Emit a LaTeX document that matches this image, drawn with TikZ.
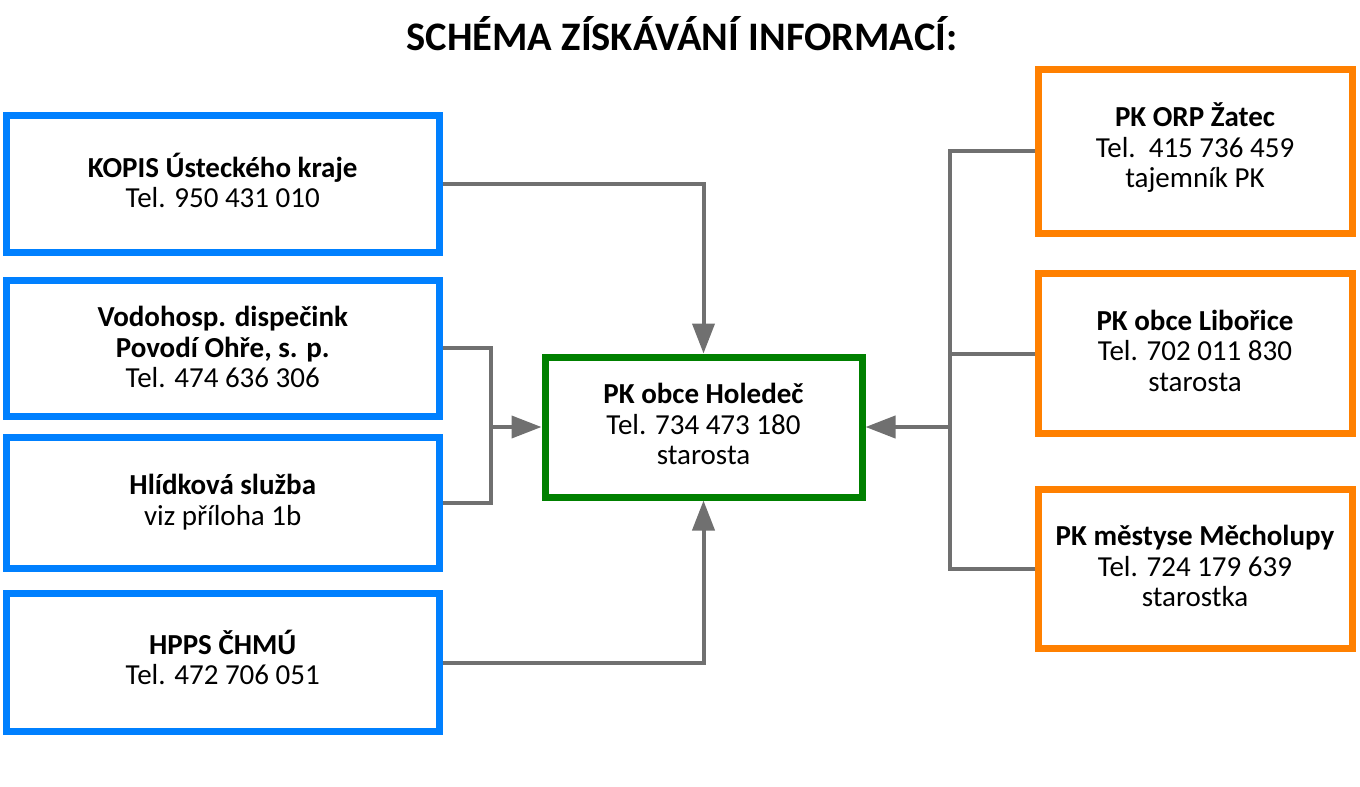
\documentclass[tikz,border=0pt]{standalone}
\usepackage{fontspec}
\setmainfont{Carlito}
\usetikzlibrary{arrows.meta}
\definecolor{cblue}{HTML}{0080FF}
\definecolor{cgreen}{HTML}{008000}
\definecolor{corange}{HTML}{FF8000}
\definecolor{cgray}{HTML}{707070}
\begin{document}
\begin{tikzpicture}[x=1pt,y=-1pt,
  box/.style={draw, line width=7pt, rectangle, inner sep=0pt},
  txt/.style={align=center, inner sep=0pt, font=\fontsize{29}{30.5}\selectfont},
  bluebox/.style={box, draw=cblue, minimum width=432.5pt, minimum height=137pt},
  orbox/.style={box, draw=corange, minimum width=314pt, minimum height=164pt},
  conn/.style={draw=cgray, line width=4pt},
  arr/.style={conn, -{Triangle[length=30pt,width=22pt]}}]
\useasboundingbox (0,0) rectangle (1360,787);
\node[font=\fontsize{40.5}{44}\selectfont\bfseries] (title) at (682,34) {SCHÉMA ZÍSKÁVÁNÍ INFORMACÍ:};
\node[bluebox] (b1) at (222.75,183.5) {};
\node[bluebox, minimum height=135.5pt] (b2) at (222.75,348.25) {};
\node[bluebox, minimum height=131pt] (b3) at (222.75,503) {};
\node[bluebox, minimum height=138pt] (b4) at (222.75,662.5) {};
\node[box, draw=cgreen, minimum width=317pt, minimum height=140pt] (g) at (703.5,427) {};
\node[orbox] (o1) at (1195,151) {};
\node[orbox, minimum height=160pt] (o2) at (1195,353.5) {};
\node[orbox, minimum height=159pt] (o3) at (1195,569) {};
\node[txt] (t1) at ([yshift=3pt]b1.center) {\textbf{KOPIS Ústeckého kraje}\\Tel. 950 431 010};
\node[txt] (t2) at ([yshift=1pt]b2.center) {\textbf{Vodohosp. dispečink}\\\textbf{Povodí Ohře, s. p.}\\Tel. 474 636 306};
\node[txt] (t3) at ([yshift=1pt]b3.center) {\textbf{Hlídková služba}\\viz příloha 1b};
\node[txt] (t4) at ([yshift=5pt]b4.center) {\textbf{HPPS ČHMÚ}\\Tel. 472 706 051};
\node[txt] (tg) at ([yshift=3pt]g.center) {\textbf{PK obce Holedeč}\\Tel. 734 473 180\\starosta};
\node[txt] (to1) at ([yshift=3pt]o1.center) {\textbf{PK ORP Žatec}\\Tel.\ \ 415 736 459\\tajemník PK};
\node[txt] (to2) at ([yshift=3pt]o2.center) {\textbf{PK obce Libořice}\\Tel. 702 011 830\\starosta};
\node[txt] (to3) at ([yshift=3pt]o3.center) {\textbf{PK městyse Měcholupy}\\Tel. 724 179 639\\starostka};
% left connectors
\draw[arr] (b1.east) -| (g.north);
\draw[arr] (b4.east) -| (g.south);
\coordinate (lj) at (491,427);
\draw[conn] (b2.east) -| (lj) |- (b3.east);
\draw[arr] (lj) -- (g.west);
% right connectors
\coordinate (rj) at (950,427);
\coordinate (rt) at (950,151);
\coordinate (rb) at (950,569);
\draw[conn] (o1.west) -- (rt) -- (rb) -- (o3.west);
\draw[conn] (o2.west) -- (rj |- o2.west);
\draw[arr] (rj) -- (g.east);
\end{tikzpicture}
\end{document}
